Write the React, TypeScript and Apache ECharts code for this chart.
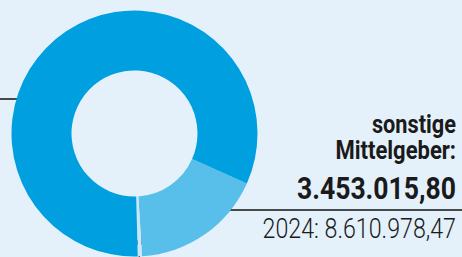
import React, { useEffect, useRef } from "react";
import * as echarts from "echarts";

const sliceNames = ["sonstige Mittelgeber", "Sonderposten", "Hauptmittelgeber"];
const sliceValues = [3453015.8, 110000, 16330000];
const sliceColors = ["#58bfeb", "#cbe6f6", "#009fdf"];
const labelTitle = ["sonstige", "Mittelgeber:"];
const labelValue = "3.453.015,80";
const labelPrev = "2024: 8.610.978,47";

const CX = 134.5;
const CY = 133.5;
const R_IN = 63;
const R_OUT = 123;

export default function App() {
  const ref = useRef<HTMLDivElement>(null);
  useEffect(() => {
    document.body.style.margin = "0";
    const chart = echarts.init(ref.current!, null, { renderer: "svg" });
    const total = sliceValues.reduce((a, b) => a + b, 0);
    const startAngle = -24;
    const pt = (angDeg: number, r: number) => {
      const a = (angDeg * Math.PI) / 180;
      return [CX + r * Math.cos(a), CY + r * Math.sin(a)];
    };
    let acc = -startAngle;
    const spans = sliceValues.map((v) => {
      const s = acc;
      const e = acc + (v / total) * 360;
      acc = e;
      return [s, e];
    });
    const mid = (R_IN + R_OUT) / 2;
    const p0 = pt((spans[0][0] + spans[0][1]) / 2, mid);
    const p1 = pt((spans[1][0] + spans[1][1]) / 2, 109);
    const p2 = pt(199.6, 103);
    const dots = [p0, p1, p2];
    const font = "Roboto, sans-serif";
    const txt = (text: string, y: number, f: string, sx: number) => ({
      type: "text",
      x: 456,
      y,
      scaleX: sx,
      originX: 0,
      style: { text, align: "right", verticalAlign: "middle", font: f, fill: "#1a1a1a" },
    });
    chart.setOption({
      animation: false,
      backgroundColor: "#e4f1fa",
      series: [
        {
          type: "pie",
          center: [CX, CY],
          radius: [R_IN, R_OUT],
          startAngle,
          clockwise: true,
          label: { show: false },
          labelLine: { show: false },
          silent: true,
          data: sliceValues.map((v, i) => ({
            name: sliceNames[i],
            value: v,
            itemStyle: { color: sliceColors[i] },
          })),
        },
      ],
      graphic: [
        { type: "line", shape: { x1: p0[0], y1: p0[1], x2: 462, y2: p0[1] }, style: { stroke: "#111", lineWidth: 1.5 } },
        { type: "line", shape: { x1: p1[0], y1: p1[1], x2: p1[0], y2: 257 }, style: { stroke: "#111", lineWidth: 1.5 } },
        { type: "line", shape: { x1: p2[0], y1: p2[1], x2: 0, y2: p2[1] }, style: { stroke: "#111", lineWidth: 1.5 } },
        ...dots.map((d) => ({ type: "circle", shape: { cx: d[0], cy: d[1], r: 3 }, style: { fill: "#111" } })),
        txt(labelTitle[0], 124, `bold 25px ${font}`, 0.87),
        txt(labelTitle[1], 151, `bold 25px ${font}`, 0.88),
        txt(labelValue, 188, `bold 32px ${font}`, 0.83),
        txt(labelPrev, 229, `300 27px ${font}`, 0.86),
      ],
    });
    return () => chart.dispose();
  }, []);
  return <div ref={ref} style={{ width: 462, height: 257 }} />;
}
